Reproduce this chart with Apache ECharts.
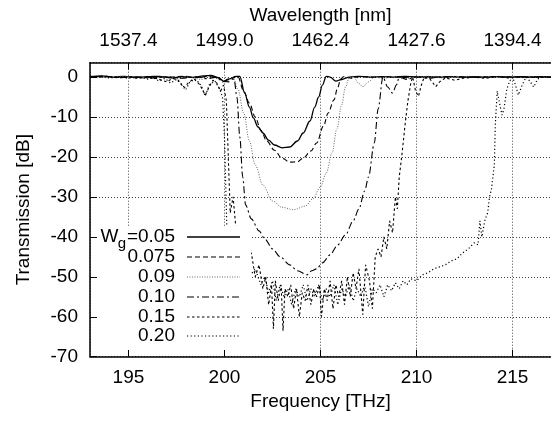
<!DOCTYPE html>
<html>
<head>
<meta charset="utf-8">
<script src="https://cdn.jsdelivr.net/npm/echarts@6/dist/echarts.min.js"></script>
<style>html,body{margin:0;padding:0;background:#fff;}#c{width:551px;height:421px;}</style>
</head>
<body>
<div id="c"></div>
<script>
// ---- data ----
const freqTicks = [195, 200, 205, 210, 215];
const wavelengthLabels = ['1537.4', '1499.0', '1462.4', '1427.6', '1394.4'];
const legendLabels = ['0.05', '0.075', '0.09', '0.10', '0.15', '0.20'];

const s005 = [[193.0,0.1],[193.6,0.3],[194.2,0.0],[194.8,0.2],[195.4,-0.1],[196.0,0.1],[196.6,0.2],[197.2,-0.2],[197.8,0.1],[198.4,-0.1],[198.9,0.3],[199.3,0.4],[199.7,-0.2],[200.0,-1.1],[200.3,-0.4],[200.6,0.2],[200.8,0.2],[201.05,-4.0],[201.3,-7.5],[201.5,-10.2],[201.75,-12.5],[202.0,-14.0],[202.3,-15.8],[202.6,-17.0],[203.0,-17.7],[203.4,-17.5],[203.8,-16.0],[204.1,-14.0],[204.45,-11.0],[204.7,-7.5],[204.9,-5.0],[205.1,-2.0],[205.3,0.2],[205.5,0.0],[205.8,-1.0],[206.1,-0.6],[206.5,0.0],[207.0,0.2],[207.6,0.0],[208.2,0.1],[208.8,0.0],[209.4,0.2],[210.0,0.0],[210.6,0.1],[211.2,0.0],[211.8,0.1],[212.4,0.0],[213.0,0.1],[213.6,0.0],[214.2,0.1],[214.8,0.0],[215.4,0.1],[216.0,0.0],[216.6,0.1],[217.0,0.0]];

const s0075 = [[193,0],[193.7,0.2],[194.4,-0.1],[195.1,0.1],[195.8,-0.2],[196.5,0.1],[197.2,0],[197.9,0.2],[198.6,-0.1],[199.2,0.2],[199.6,0],[199.9,-0.8],[200.2,-1.2],[200.5,0],[200.7,0.1],[201.0,-3.5],[201.3,-6.5],[201.6,-10],[201.9,-13.3],[202.2,-16],[202.6,-18.3],[203.0,-20.3],[203.4,-21.3],[203.8,-21.2],[204.1,-20.3],[204.5,-18.5],[204.8,-16.5],[205.15,-12.3],[205.4,-9],[205.7,-5.7],[205.9,-2.5],[206.05,-0.5],[206.2,0.1],[206.6,-0.3],[207.0,0.1],[207.7,0],[208.5,0.1],[209.3,-0.1],[210.1,0.1],[211,0],[212,0.1],[213,0],[214,0.1],[215,0],[216,0.1],[217,0]];

const s009 = [[193,0.1],[193.8,-0.1],[194.6,0.2],[195.4,0],[196.2,-0.3],[197,0.1],[197.6,-0.4],[198.2,0.1],[198.8,-0.6],[199.3,0.1],[199.7,-0.5],[200.0,-1.5],[200.3,-0.6],[200.45,0],[200.7,-3],[201.0,-9],[201.3,-16],[201.6,-22],[202.0,-27],[202.5,-31],[203.0,-32.6],[203.6,-33.2],[204.2,-32.3],[204.6,-30.5],[205.0,-27.5],[205.3,-24],[205.6,-19],[205.85,-13],[206.1,-7],[206.3,-2.5],[206.5,0],[206.7,0.2],[207.0,-1.6],[207.2,-2.4],[207.5,-1.2],[207.8,0],[208.3,-0.3],[208.8,0.1],[209.4,-0.4],[210,0],[210.6,0.2],[211.3,-0.2],[212,0.1],[213,0],[214,0.1],[215,-0.1],[216,0.1],[217,0]];

const s010 = [[193,0],[193.8,0.2],[194.6,-0.1],[195.4,0.1],[196.2,-0.2],[197,0],[197.8,-0.3],[198.5,0.1],[199.1,-0.4],[199.6,0],[199.9,-1.2],[200.2,-0.5],[200.5,-0.5],[200.65,-5],[200.8,-15],[200.95,-25],[201.1,-32],[201.4,-35.5],[201.8,-38.5],[202.1,-40.5],[202.5,-43],[202.9,-45],[203.4,-47],[203.8,-48.5],[204.3,-49.5],[204.55,-48.5],[204.8,-48],[205.1,-46.5],[205.5,-44.5],[205.9,-42],[206.3,-39.5],[206.7,-36],[207.0,-33],[207.3,-28.5],[207.5,-25],[207.8,-16.5],[208.0,-8],[208.25,0],[208.5,-2.5],[208.75,-4],[208.95,-2],[209.1,0],[209.5,-0.6],[210,0.1],[210.6,-0.3],[211.2,0],[212,0.1],[213,-0.1],[214,0.1],[215,0],[216,0.1],[217,0]];

const s015 = [[193,0.2],[193.5,0],[194,0.1],[194.5,-0.2],[195,0],[195.5,-0.3],[196,0.1],[196.5,-0.4],[197,-1.2],[197.3,-0.3],[197.6,-0.8],[197.9,-2.8],[198.1,-1.5],[198.4,-0.4],[198.7,-1.8],[199.0,-4.5],[199.2,-2.5],[199.4,-0.8],[199.6,-1.5],[199.8,-3.5],[199.95,-2],[200.1,-6],[200.2,-20],[200.3,-34],[200.45,-30],[200.6,-38],[200.8,-42],[201.0,-40],[201.2,-46],[201.4,-44],[201.6,-50],[201.8,-47],[202.0,-53],[202.15,-50],[202.3,-57],[202.45,-52],[202.55,-63],[202.65,-51],[202.8,-56],[202.95,-52],[203.05,-63.5],[203.15,-53],[203.3,-55],[203.45,-52],[203.6,-58],[203.75,-53],[203.9,-60],[204.05,-54],[204.2,-56],[204.35,-52],[204.5,-57],[204.65,-53],[204.8,-55],[204.95,-52],[205.05,-60],[205.2,-53],[205.35,-56],[205.5,-51],[205.65,-58],[205.8,-52],[205.95,-55],[206.1,-51],[206.25,-57],[206.4,-50],[206.55,-55],[206.7,-49],[206.85,-53],[207.0,-48],[207.2,-59.5],[207.35,-47],[207.55,-51],[207.7,-58],[207.85,-45],[208.0,-43],[208.15,-45],[208.3,-40],[208.45,-43],[208.6,-36],[208.75,-39],[208.9,-30],[209.0,-33],[209.1,-25],[209.25,-19],[209.4,-12],[209.55,-6],[209.7,-1.5],[209.8,0],[209.95,-3.5],[210.1,-4.8],[210.25,-2],[210.4,0],[210.7,-0.5],[211.0,-2.4],[211.2,-1.2],[211.5,-0.2],[212.0,-0.8],[212.4,-0.3],[213,0],[213.6,-0.3],[214.2,0.1],[214.8,-0.2],[215.4,0],[216,-0.1],[217,0]];

const s020 = [[193,0],[193.5,0.2],[194,-0.2],[194.5,0],[195,-0.3],[195.5,0],[196,-0.5],[196.3,-0.2],[196.6,-1.0],[196.9,-0.3],[197.2,-1.5],[197.5,-0.6],[197.8,-2],[198.0,-3],[198.2,-1.2],[198.5,-0.5],[198.8,-2.2],[199.0,-4.8],[199.2,-2],[199.5,-1],[199.75,-3],[199.9,-5],[200.0,-15],[200.08,-30],[200.15,-42],[200.4,-44],[200.7,-48],[201.0,-46],[201.3,-50],[201.6,-48],[201.9,-52],[202.1,-50],[202.3,-54],[202.5,-51],[202.7,-56],[202.9,-52],[203.1,-55],[203.3,-53],[203.5,-57],[203.7,-53],[203.9,-55],[204.1,-52],[204.3,-56],[204.5,-53],[204.7,-55],[204.9,-52],[205.1,-56],[205.3,-53],[205.5,-55],[205.7,-52],[205.9,-57],[206.1,-53],[206.3,-55],[206.5,-52],[206.7,-56],[206.9,-53],[207.1,-55],[207.3,-52],[207.5,-57.5],[207.7,-53],[207.9,-54],[208.1,-52],[208.3,-55],[208.5,-52],[208.7,-53.5],[208.9,-51.5],[209.1,-53],[209.3,-51],[209.5,-52],[209.7,-50.5],[210.0,-51],[210.3,-49.5],[210.6,-49],[210.9,-48],[211.2,-47.5],[211.5,-47],[211.8,-46],[212.1,-45.5],[212.4,-44],[212.7,-43],[213.0,-41.5],[213.2,-42],[213.3,-36],[213.4,-40],[213.55,-36],[213.7,-34],[213.8,-30],[213.9,-28],[214.0,-24],[214.05,-22],[214.1,-12],[214.2,-3.5],[214.3,-6],[214.45,-9.5],[214.55,-8],[214.7,-3],[214.85,-1],[215.0,0],[215.15,-2],[215.3,-4.5],[215.5,-2],[215.7,0],[215.9,-1],[216.1,-2.5],[216.3,-0.5],[216.5,0],[217,0]];

const seriesData = [s005, s0075, s009, s010, s015, s020];
const smoothFlags = [0.35, 0.35, 0.35, 0.3, false, false];

// ---- styles ----
const FONT = "'Liberation Sans', Arial, Helvetica, sans-serif";
const FS = 19;
const lineStyles = [
  {color:'#000', width:1.3, type:'solid'},
  {color:'#000', width:1.1, type:[5,3]},
  {color:'#666', width:1.0, type:[1,1.5]},
  {color:'#000', width:1.1, type:[7,3,2,3]},
  {color:'#000', width:1.1, type:[2.5,2.5]},
  {color:'#000', width:1.2, type:[1.2,2.4]}
];

const GL = 90, GT = 62.7, GW = 467.5, GH = 294;

const chart = echarts.init(document.getElementById('c'), null, {renderer:'canvas'});

const series = seriesData.map((d, i) => ({
  type: 'line',
  name: legendLabels[i],
  data: d,
  xAxisIndex: 0,
  yAxisIndex: 0,
  symbol: 'none',
  showSymbol: false,
  smooth: smoothFlags[i],
  smoothMonotone: 'x',
  lineStyle: Object.assign({}, lineStyles[i]),
  z: 2,
  silent: true,
  animation: false
}));

// legend (opaque key box like gnuplot)
const keyX0 = 91, keyY0 = 226, keyW = 160, keyH = 124;
const rowY = [237, 257, 277, 297, 317, 336];
const textRight = 175, sampleX1 = 187, sampleX2 = 240;
const graphics = [
  {type:'rect', shape:{x:keyX0, y:keyY0, width:keyW, height:keyH}, style:{fill:'#fff'}, z:50, silent:true}
];
legendLabels.forEach((lab, i) => {
  if (i === 0) {
    graphics.push({type:'text', x:textRight, y:rowY[i], style:{text:'='+lab, font: FS+'px '+FONT, fill:'#000', textAlign:'right', textVerticalAlign:'middle'}, z:51});
    graphics.push({type:'text', x:126, y:rowY[i]+7, style:{text:'g', font: '15px '+FONT, fill:'#000', textAlign:'right', textVerticalAlign:'middle'}, z:51});
    graphics.push({type:'text', x:118.5, y:rowY[i], style:{text:'W', font: FS+'px '+FONT, fill:'#000', textAlign:'right', textVerticalAlign:'middle'}, z:51});
  } else {
    graphics.push({type:'text', x:textRight, y:rowY[i], style:{text:lab, font: FS+'px '+FONT, fill:'#000', textAlign:'right', textVerticalAlign:'middle'}, z:51});
  }
  const ls = lineStyles[i];
  graphics.push({type:'line', shape:{x1:sampleX1, y1:rowY[i], x2:sampleX2, y2:rowY[i]},
    style:{stroke:ls.color, lineWidth:ls.width, lineDash: ls.type === 'solid' ? null : ls.type}, z:51, silent:true});
});

const axisFont = {fontFamily: FONT, fontSize: FS, color:'#000'};
const option = {
  animation: false,
  backgroundColor: '#fff',
  grid: {left: GL, top: GT, width: GW, height: GH, containLabel: false},
  xAxis: [
    {
      type:'value', position:'bottom', min:193, max:217, minInterval:5, maxInterval:5,
      name:'Frequency [THz]', nameLocation:'middle', nameGap:34,
      nameTextStyle: axisFont,
      axisLine:{show:true, onZero:false, lineStyle:{color:'#000', width:1.5}},
      axisTick:{show:true, inside:true, length:7, lineStyle:{color:'#000', width:1}},
      axisLabel: Object.assign({margin:12, showMinLabel:false, showMaxLabel:false}, axisFont),
      splitLine:{show:true, lineStyle:{color:'#444', width:1, type:[1,2]}},
      z: 0
    },
    {
      type:'value', position:'top', min:193, max:217, minInterval:5, maxInterval:5,
      name:'Wavelength [nm]', nameLocation:'middle', nameGap:37,
      nameTextStyle: axisFont,
      axisLine:{show:true, onZero:false, lineStyle:{color:'#000', width:1.5}},
      axisTick:{show:true, inside:true, length:7, lineStyle:{color:'#000', width:1}},
      axisLabel: Object.assign({margin:12, showMinLabel:false, showMaxLabel:false,
        formatter: v => { const k = freqTicks.indexOf(Math.round(v*1000)/1000); return k >= 0 ? wavelengthLabels[k] : ''; }}, axisFont),
      splitLine:{show:false},
      z: 0
    }
  ],
  yAxis: [
    {
      type:'value', position:'left', min:-70, max:3.6, interval:10,
      axisLine:{show:false}, axisTick:{show:false}, axisLabel:{show:false},
      splitLine:{show:true, lineStyle:{color:'#444', width:1, type:[1,2]}},
      z: 0
    },
    {
      type:'value', position:'left', min:-70, max:3.6, interval:10,
      name:'Transmission [dB]', nameLocation:'middle', nameGap:57, nameRotate:90,
      nameTextStyle: axisFont,
      axisLine:{show:true, onZero:false, lineStyle:{color:'#000', width:1.5}},
      axisTick:{show:true, inside:true, length:7, lineStyle:{color:'#000', width:1}},
      axisLabel: Object.assign({margin:12, showMaxLabel:false}, axisFont),
      splitLine:{show:false},
      z: 60
    }
  ],
  graphic: {elements: graphics},
  series: series
};
chart.setOption(option);
</script>
</body>
</html>
